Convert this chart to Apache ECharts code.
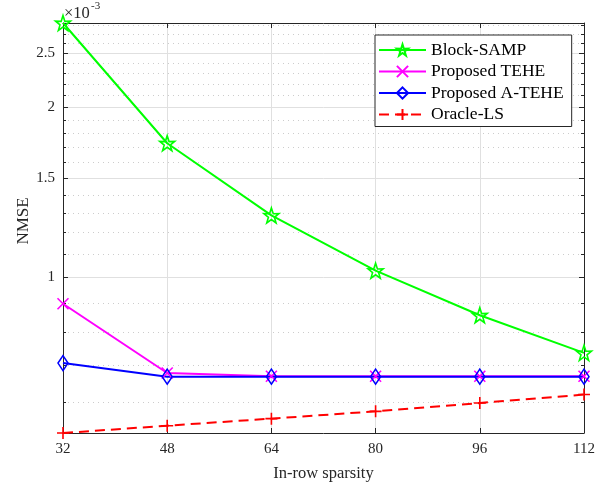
<!DOCTYPE html>
<html>
<head>
<meta charset="utf-8" />
<script src="https://cdn.jsdelivr.net/npm/echarts@6/dist/echarts.min.js"></script>
<style>
  html, body { margin: 0; padding: 0; background: #fff; }
  #chart { width: 611px; height: 487px; }
</style>
</head>
<body>
<div id="chart"></div>
<script>
// x categories
const sparsity = ['32', '48', '64', '80', '96', '112'];
// NMSE values, in units of 1e-3
const blockSamp = [2.824, 1.729, 1.288, 1.028, 0.857, 0.735];
const tehe = [0.898, 0.677, 0.668, 0.668, 0.668, 0.668];
const aTehe = [0.705, 0.667, 0.667, 0.667, 0.667, 0.667];
const oracleLs = [0.530, 0.546, 0.562, 0.579, 0.599, 0.620];
// y tick values (x1e-3)
const majorTicks = [1, 1.5, 2, 2.5];
const minorTicks = [0.6, 0.7, 0.8, 0.9, 1.1, 1.2, 1.3, 1.4, 1.6, 1.7, 1.8, 1.9,
  2.1, 2.2, 2.3, 2.4, 2.6, 2.7, 2.8];
const yMin = 0.530, yMax = 2.824;

const serif = 'Liberation Serif';
const axisColor = '#262626';
const starPath = 'path://M50,0L61.8,35.4L97.6,34.5L69,56.7L79.4,90.5L50,70L20.6,90.5L31,56.7L2.4,34.5L38.2,35.4Z';
const crossPath = 'path://M0,0L10,10M10,0L0,10';
const plusPath = 'path://M5,0L5,10M0,5L10,5';

const chart = echarts.init(document.getElementById('chart'));

const logY = (extra) => Object.assign({
  type: 'log', logBase: 10, min: yMin, max: yMax,
  axisLine: { show: false },
  axisLabel: { show: false },
  axisTick: { show: false },
  splitLine: { show: false }
}, extra);

function makeSeries(name, data, color, symbol, size, dashed) {
  return {
    name: name,
    type: 'line',
    data: data,
    symbol: symbol,
    symbolSize: size,
    symbolKeepAspect: false,
    showAllSymbol: true,
    lineStyle: { color: color, width: 2, type: dashed ? [10, 6] : 'solid' },
    itemStyle: { color: 'rgba(0,0,0,0)', borderColor: color, borderWidth: 1.6 },
    emphasis: { disabled: true },
    clip: false,
    z: 3
  };
}

const option = {
  animation: false,
  backgroundColor: '#fff',
  grid: { left: 63, right: 27, top: 23, bottom: 54, outerBoundsMode: 'none' },
  xAxis: [
    {
      type: 'category', data: sparsity, boundaryGap: false, position: 'bottom',
      axisLine: { lineStyle: { color: axisColor, width: 1 } },
      axisTick: { inside: true, length: 5, lineStyle: { color: axisColor } },
      axisLabel: { fontFamily: serif, fontSize: 15, color: axisColor, margin: 9 },
      splitLine: { show: true, lineStyle: { color: '#e0e0e0', width: 1 } },
      name: 'In-row sparsity', nameLocation: 'middle', nameGap: 32, nameMoveOverlap: false,
      nameTextStyle: { fontFamily: serif, fontSize: 16.5, color: axisColor }
    },
    {
      type: 'category', data: sparsity, boundaryGap: false, position: 'top',
      axisLine: { lineStyle: { color: axisColor, width: 1 } },
      axisTick: { inside: true, length: 5, lineStyle: { color: axisColor } },
      axisLabel: { show: false },
      splitLine: { show: false }
    }
  ],
  yAxis: [
    logY({
      position: 'left',
      axisLine: { show: true, lineStyle: { color: axisColor, width: 1 } },
      axisTick: { show: true, inside: true, length: 5, customValues: majorTicks, lineStyle: { color: axisColor } },
      axisLabel: {
        show: true, customValues: majorTicks, fontFamily: serif, fontSize: 15, color: axisColor, margin: 8,
        formatter: (v) => String(+(+v).toFixed(2))
      },
      splitLine: { show: true, lineStyle: { color: '#e0e0e0', width: 1 } },
      name: 'NMSE', nameLocation: 'middle', nameGap: 31, nameMoveOverlap: false,
      nameTextStyle: { fontFamily: serif, fontSize: 17, color: axisColor, padding: [0, 0, 0, 14] }
    }),
    logY({
      position: 'left',
      axisTick: { show: true, inside: true, length: 3, customValues: minorTicks, lineStyle: { color: axisColor } },
      splitLine: { show: true, lineStyle: { color: '#cccccc', width: 1, type: [1, 4] } }
    }),
    logY({
      position: 'right',
      axisLine: { show: true, lineStyle: { color: axisColor, width: 1 } },
      axisTick: { show: true, inside: true, length: 5, customValues: majorTicks, lineStyle: { color: axisColor } }
    }),
    logY({
      position: 'right',
      axisTick: { show: true, inside: true, length: 3, customValues: minorTicks, lineStyle: { color: axisColor } }
    })
  ],
  legend: {
    orient: 'vertical', left: 375, top: 35,
    itemWidth: 47, itemHeight: 14, itemGap: 3.5,
    backgroundColor: '#fff', borderColor: axisColor, borderWidth: 1,
    borderRadius: 0,
    padding: [6, 8, 3, 3],
    textStyle: { fontFamily: serif, fontSize: 17.5, color: '#000' },
    data: ['Block-SAMP', 'Proposed TEHE', 'Proposed A-TEHE', 'Oracle-LS']
  },
  graphic: [
    { type: 'text', left: 64, top: 5, style: { text: '×10', font: '16.5px "Liberation Serif"', fill: axisColor } },
    { type: 'text', left: 91, top: 1, style: { text: '-3', font: '11px "Liberation Serif"', fill: axisColor } }
  ],
  series: [
    makeSeries('Block-SAMP', blockSamp, '#00ff00', starPath, 15, false),
    makeSeries('Proposed TEHE', tehe, '#ff00ff', crossPath, 11, false),
    makeSeries('Proposed A-TEHE', aTehe, '#0000ff', 'diamond', [10, 15], false),
    makeSeries('Oracle-LS', oracleLs, '#ff0000', plusPath, 12, true)
  ]
};

chart.setOption(option);
</script>
</body>
</html>
